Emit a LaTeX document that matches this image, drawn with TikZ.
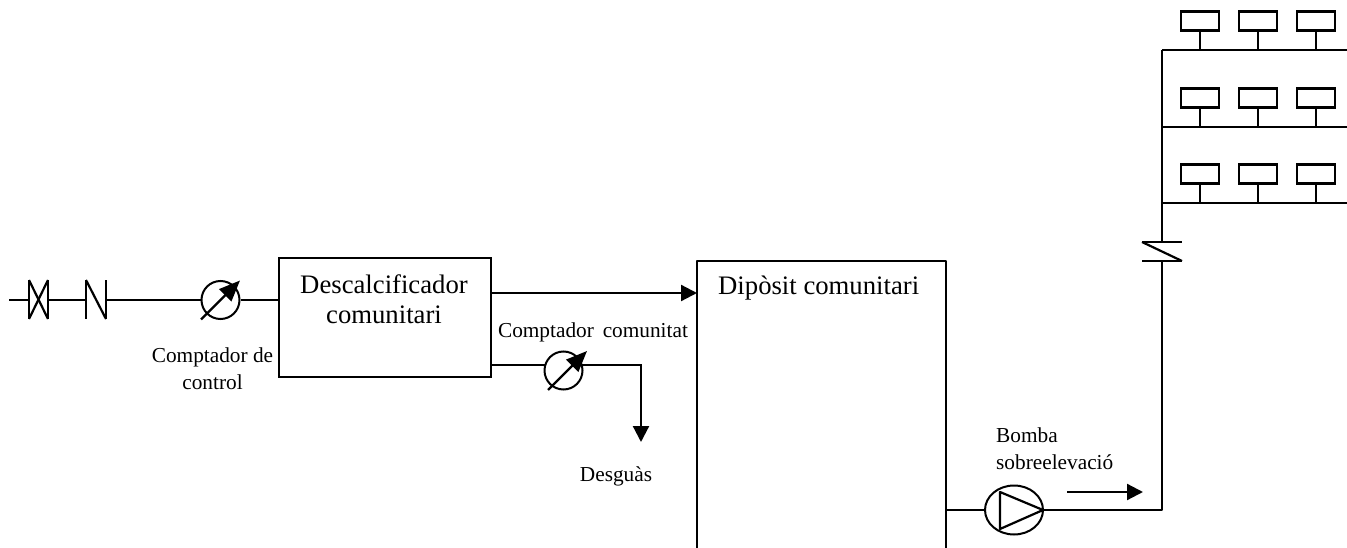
\documentclass[tikz,border=0pt]{standalone}
\usepackage{fontspec}
\setmainfont{Liberation Serif}
\usetikzlibrary{arrows.meta,shapes.geometric}
\tikzset{
  x=1pt,y=-1pt,
  line/.style={line width=2.2pt,black,line cap=butt,line join=round},
  arrowline/.style={line width=2.2pt,black,line join=miter,-{Triangle[length=16pt,width=16pt]}},
  meter/.style={circle,draw,line width=2pt,minimum size=38pt,inner sep=0pt},
  meterarrow/.style={line width=2.2pt,-{Triangle[length=21pt,width=17pt]}},
  pumpbody/.style={ellipse,draw,line width=2pt,minimum width=58pt,minimum height=49pt,inner sep=0pt},
  bigbox/.style={rectangle,draw,line width=2.2pt,inner sep=0pt,anchor=north west},
  tap/.style={rectangle,draw,line width=2.2pt,minimum width=38pt,minimum height=19pt,inner sep=0pt},
  big/.style={font=\fontsize{26.7}{30}\selectfont,align=center,inner sep=0pt},
  small/.style={font=\fontsize{21.3}{27}\selectfont,align=center,inner sep=0pt},
}
\begin{document}
\begin{tikzpicture}
\useasboundingbox (0,0) rectangle (1347,548);
% boxes
\node[bigbox,minimum width=212pt,minimum height=119pt] (dec) at (278,257) {};
\node[big] (dectxt) at (384,299) {Descalcificador\\comunitari};
\coordinate (depBL) at (697,548);
\coordinate (depTL) at (697,261);
\coordinate (depTR) at (946,261);
\coordinate (depBR) at (946,548);
\draw[line] (depBL) -- (depTL) -- (depTR) -- (depBR);
\node[big,anchor=west] (deptxt) at (718,288) {Dipòsit comunitari};
% inlet
\coordinate (in) at (9,300);
\coordinate (v1l) at (29,300);
\coordinate (v1r) at (48,300);
\coordinate (c1l) at (86,300);
\coordinate (c1r) at (106,300);
\node[meter] (m1) at (220.5,300) {};
\draw[line] (in) -- (v1l);
\draw[line] (29,280) -- (29,319);
\draw[line] (48,280) -- (48,319);
\draw[line] (29,280) -- (48,319);
\draw[line] (48,280) -- (29,319);
\draw[line] (v1r) -- (c1l);
\draw[line] (86,280) -- (86,319);
\draw[line] (106,280) -- (106,319);
\draw[line] (86,280) -- (106,319);
\draw[line] (c1r) -- (m1.west);
\draw[meterarrow] (201,319.5) -- (240,280.5);
\draw[line] (m1.east) -- (dec.west |- m1.east);
\node[small] (l1) at (212.5,368.5) {Comptador de\\control};
% top outlet
\coordinate (o1) at (490,293);
\draw[arrowline] (o1) -- (o1 -| depTL);
% lower outlet
\node[meter] (m2) at (563.5,370.5) {};
\coordinate (o2) at (490,365);
\coordinate (m2l) at (545,365);
\coordinate (m2r) at (582,365);
\coordinate (cn) at (641,365);
\coordinate (dr) at (641,442);
\draw[line] (o2) -- (m2l);
\draw[meterarrow] (548,390) -- (587,351);
\draw[arrowline] (m2r) -- (cn) -- (dr);
\node[small] (l2) at (593,332) {Comptador\, comunitat};
\node[small] (l3) at (616,476) {Desguàs};
% pump
\node[pumpbody] (p) at (1014,510) {};
\draw[line] (1000,492) -- (1043,510) -- (1000,529) -- cycle;
\coordinate (po) at (946,510);
\coordinate (riser) at (1162,510);
\coordinate (cv1) at (1162,261);
\coordinate (cv2) at (1162,242);
\coordinate (top) at (1162,50);
\draw[line] (po) -- (p.west);
\draw[line] (p.east) -- (riser) -- (cv1);
\draw[line] (1142,261) -- (1182,261);
\draw[line] (1142,242) -- (1182,242);
\draw[line] (1142,242) -- (1182,261);
\draw[line] (cv2) -- (top);
\coordinate (fa) at (1067,492);
\coordinate (fb) at (1143,492);
\draw[arrowline] (fa) -- (fb);
\node[small,anchor=west] (l4) at (996,435) {Bomba};
\node[small,anchor=west] (l5) at (996,462) {sobreelevació};
% building
\foreach \n/\ly in {a/50,b/127,c/203}{
  \coordinate (L\n) at (1162,\ly);
  \coordinate (R\n) at (1347,\ly);
  \draw[line] (L\n) -- (R\n);
  \foreach \m/\bx in {1/1200,2/1258,3/1316}{
    \node[tap] (t\n\m) at (\bx,\ly-29) {};
    \draw[line] (t\n\m.south) -- (t\n\m.south |- L\n);
  }
}
\end{tikzpicture}
\end{document}
